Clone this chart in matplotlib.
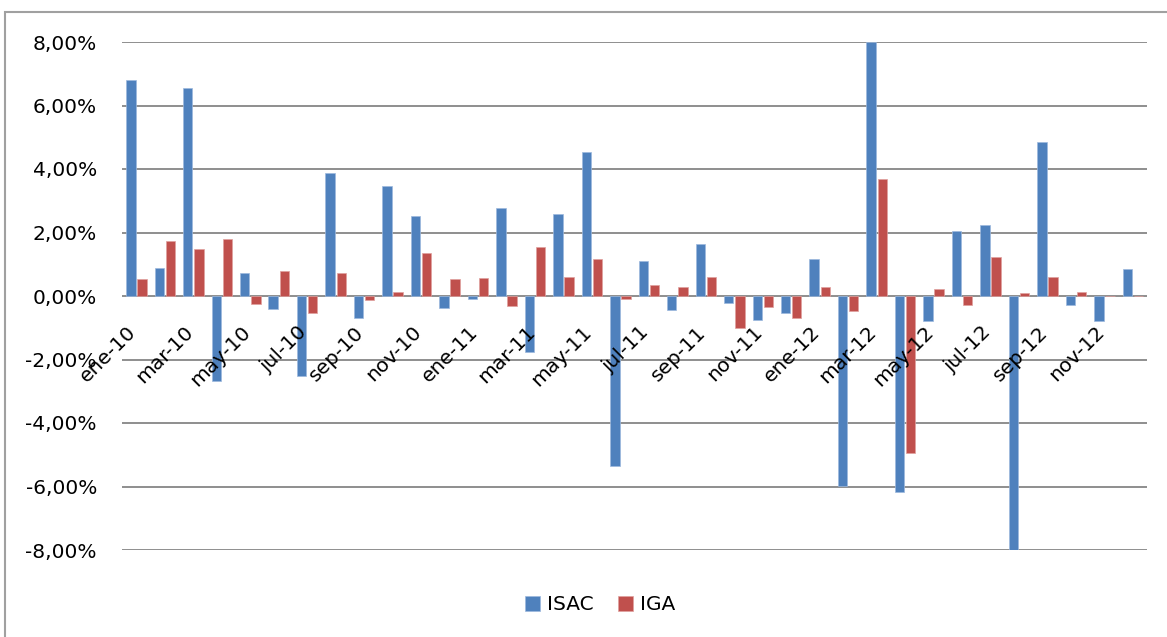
import matplotlib.pyplot as plt
import numpy as np
from matplotlib.patches import Rectangle
from matplotlib.transforms import ScaledTranslation

months = ['ene', 'feb', 'mar', 'abr', 'may', 'jun', 'jul', 'ago', 'sep', 'oct', 'nov', 'dic']
years = ['10', '11', '12']
labels = [m + '-' + y for y in years for m in months]

isac = [6.80, 0.88, 6.55, -2.68, 0.71, -0.41, -2.52, 3.87, -0.70, 3.47, 2.53, -0.39,
        -0.10, 2.76, -1.76, 2.58, 4.52, -5.37, 1.10, -0.43, 1.64, -0.21, -0.75, -0.53,
        1.16, -5.97, 8.00, -6.18, -0.79, 2.06, 2.24, -8.00, 4.84, -0.29, -0.79, 0.86]
iga = [0.55, 1.72, 1.47, 1.81, -0.25, 0.80, -0.53, 0.73, -0.12, 0.13, 1.34, 0.52,
       0.58, -0.30, 1.55, 0.60, 1.16, -0.09, 0.34, 0.29, 0.59, -1.01, -0.36, -0.68,
       0.28, -0.48, 3.70, -4.95, 0.21, -0.28, 1.24, 0.10, 0.60, 0.12, 0.00, 0.00]

yticks = [-8, -6, -4, -2, 0, 2, 4, 6, 8]

blue = '#4F81BD'
red = '#C0504D'
grid_c = '#868686'

plt.rcParams['font.family'] = ['DejaVu Sans']

fig = plt.figure(figsize=(11.67, 6.37), dpi=100)
ax = fig.add_axes([122 / 1167, 1 - 550 / 637, (1147 - 122) / 1167, (550 - 42) / 637])

x = np.arange(len(labels))
w = 0.33
ax.bar(x - 0.19, isac, w, color=blue, edgecolor='#9DB9DD', linewidth=0.5, label='ISAC', zorder=3)
ax.bar(x + 0.2, iga, w, color=red, edgecolor='#E0A09E', linewidth=0.5, label='IGA', zorder=3)

ax.set_xlim(-0.5, len(labels) - 0.5)
ax.set_ylim(-8, 8)
ax.set_yticks(yticks)
ax.set_yticklabels([('%.2f%%' % v).replace('.', ',') for v in yticks], fontsize=14.5)
for y in yticks:
    ax.axhline(y, color=grid_c, linewidth=1.3, zorder=1)

for s in ['left', 'right', 'top']:
    ax.spines[s].set_visible(False)
ax.spines['bottom'].set_position(('data', 0))
ax.spines['bottom'].set_visible(False)
ax.tick_params(axis='y', length=0, pad=18)
ax.tick_params(axis='x', length=0, pad=19)

ax.set_xticks(x[::2])
ax.set_xticklabels(labels[::2], fontsize=14.5, rotation=45, ha='right')
off = ScaledTranslation(4 / 100, 0, fig.dpi_scale_trans)
for t in ax.get_xticklabels():
    t.set_transform(t.get_transform() + off)
# labels sit on top of the bars, like the original
ax.xaxis.set_zorder(5)

fig.legend(loc='center', bbox_to_anchor=(600 / 1167, 1 - 605 / 637), ncol=2, frameon=False,
           fontsize=14.5, handlelength=0.75, handleheight=0.75, handletextpad=0.35, columnspacing=1.2)

fig.patches.append(Rectangle((5 / 1167, -0.1), 1.2, 1 - 12 / 637 + 0.1, transform=fig.transFigure,
                             fill=False, edgecolor='#A0A0A0', linewidth=1.5))

plt.savefig('out.png')
